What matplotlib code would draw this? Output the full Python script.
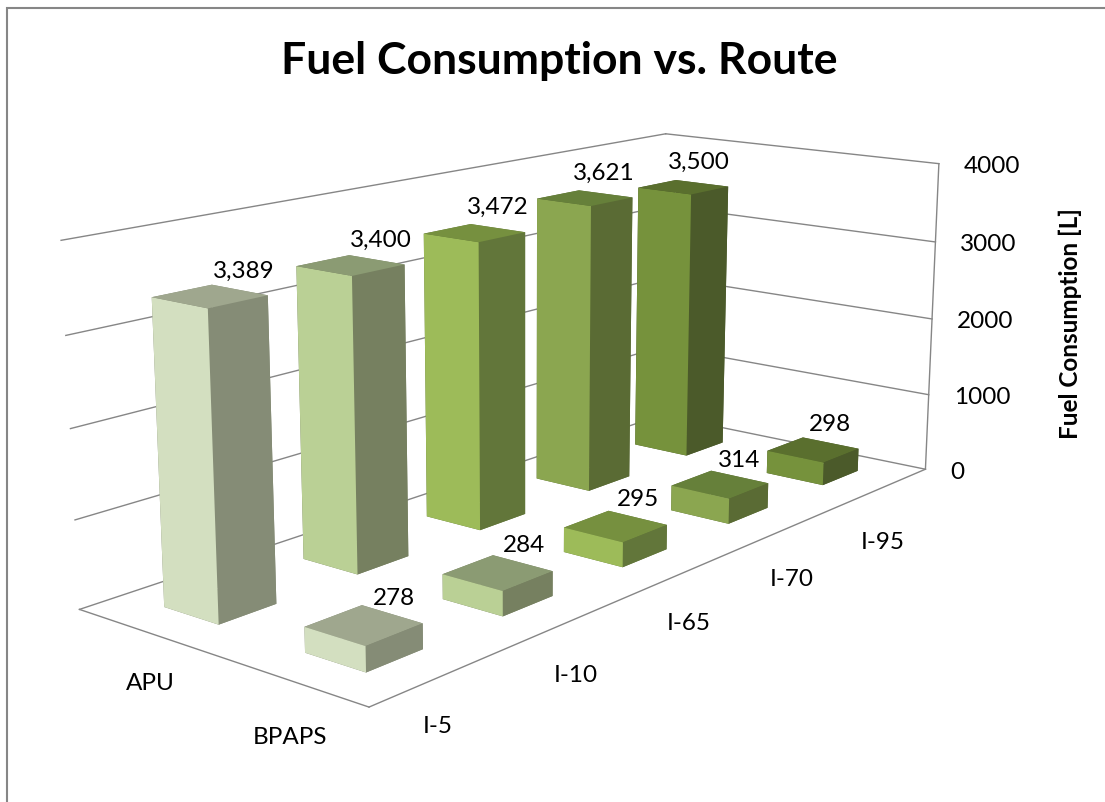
import numpy as np
import matplotlib
matplotlib.use("Agg")
import matplotlib.pyplot as plt
from matplotlib.patches import Rectangle
from mpl_toolkits.mplot3d import proj3d

routes = ["I-5", "I-10", "I-65", "I-70", "I-95"]
series = ["BPAPS", "APU"]
bpaps = [278, 284, 295, 314, 298]
apu = [3389, 3400, 3472, 3621, 3500]
z_ticks = [0, 1000, 2000, 3000, 4000]

# one colour per route, for the three faces that can be seen
front_cols = ["#D3DFC0", "#BAD095", "#9DBB59", "#8BA650", "#76923C"]
top_cols = ["#9FA78E", "#8B9B73", "#76903F", "#66803A", "#5A6F2E"]
side_cols = ["#858C76", "#768060", "#62763A", "#5A6B34", "#4B5A2A"]

grid_col = "#868686"
plt.rcParams["font.family"] = ["Lato", "DejaVu Sans"]

W, H = 1105, 803
fig = plt.figure(figsize=(W / 100, H / 100), dpi=100)

# camera found by fitting the frame corners of the picture
scale, cx, cy = 5404.146, 544.334, 369.294
side = 0.185 * scale
left = cx - 0.095 * scale
bottom = H - (cy + 0.095 * scale)
ax = fig.add_axes([left / W, bottom / H, side / W, side / H], projection="3d")
ax.set_xlim(0, 5)
ax.set_ylim(0, 2)
ax.set_zlim(0, 4000)
ax.view_init(elev=13.7608, azim=-140.7097, roll=-0.119)
ax.set_proj_type("persp", focal_length=0.41665)
ax.set_box_aspect((2.0931, 0.8530, 0.8013))
ax.set_axis_off()
ax.computed_zorder = False
ax.patch.set_alpha(0)
ax.M = ax.get_proj()


def label(x, y, z, txt, dx=0, dy=0, **kw):
    u, v, _ = proj3d.proj_transform(x, y, z, ax.M)
    ax.annotate(txt, xy=(u, v), xytext=(dx, dy), xycoords="data",
                textcoords="offset pixels", annotation_clip=False,
                va="center", **kw)


# walls and floor edges
for z in z_ticks:
    ax.plot([0, 5], [2, 2], [z, z], color=grid_col, lw=1, zorder=1)
    ax.plot([5, 5], [2, 0], [z, z], color=grid_col, lw=1, zorder=1)
ax.plot([5, 5], [0, 0], [0, 4000], color=grid_col, lw=1, zorder=1)
ax.plot([0, 5], [0, 0], [0, 0], color=grid_col, lw=1, zorder=1)
ax.plot([0, 0], [0, 2], [0, 0], color=grid_col, lw=1, zorder=1)

# bars, back row first so that the front row stays on top
bar_w = 0.4
for row, values in [(1, apu), (0, bpaps)]:
    for i in range(len(routes))[::-1]:
        # bottom, top, -y, +y, -x, +x
        cols = [side_cols[i], top_cols[i], side_cols[i], side_cols[i], front_cols[i], side_cols[i]]
        ax.bar3d(i + 0.3, row + 0.3, 0, bar_w, bar_w, values[i], color=cols,
                 shade=False, edgecolor="none", linewidth=0, zorder=5 + (1 - row) + (4 - i) * 0.1)

# data labels
apu_off = [(34, 26), (30, 26), (23, 27), (19, 26), (16, 26)]
bpaps_off = [(30, 28), (26, 28), (22, 28), (19, 25), (17, 26)]
for i in range(len(routes)):
    label(i + 0.5, 1.5, apu[i], f"{apu[i]:,}", apu_off[i][0], apu_off[i][1], ha="center", fontsize=17.5)
    label(i + 0.5, 0.5, bpaps[i], f"{bpaps[i]:,}", bpaps_off[i][0], bpaps_off[i][1], ha="center", fontsize=17.5)

# axis labels
for z in z_ticks:
    label(5, 0, z, str(z), 25, -2, ha="left", fontsize=17.5)
route_off = [(-5, -50), (1, -55), (-2, -53), (-1, -53), (-1, -54)]
for i, r in enumerate(routes):
    label(i + 0.5, 0, 0, r, route_off[i][0], route_off[i][1], ha="center", fontsize=17.5)
series_off = [(0, -56), (5, -51)]
for j, s in enumerate(series):
    label(0, j + 0.5, 0, s, series_off[j][0], series_off[j][1], ha="center", fontsize=17.5)

fig.text(1070 / W, 1 - 324 / H, "Fuel Consumption [L]", rotation=90, fontsize=17.5,
         fontweight="bold", ha="center", va="center")
fig.text(559 / W, 1 - 61 / H, "Fuel Consumption vs. Route", fontsize=32,
         fontweight="bold", ha="center", va="center")

# chart border, its right and bottom sides fall outside the picture
fig.add_artist(Rectangle((7 / W, -0.1), 1.1, 1.1 - 9 / H, transform=fig.transFigure,
                         fill=False, edgecolor=grid_col, lw=1.5))

fig.savefig("out.png", dpi=100)
